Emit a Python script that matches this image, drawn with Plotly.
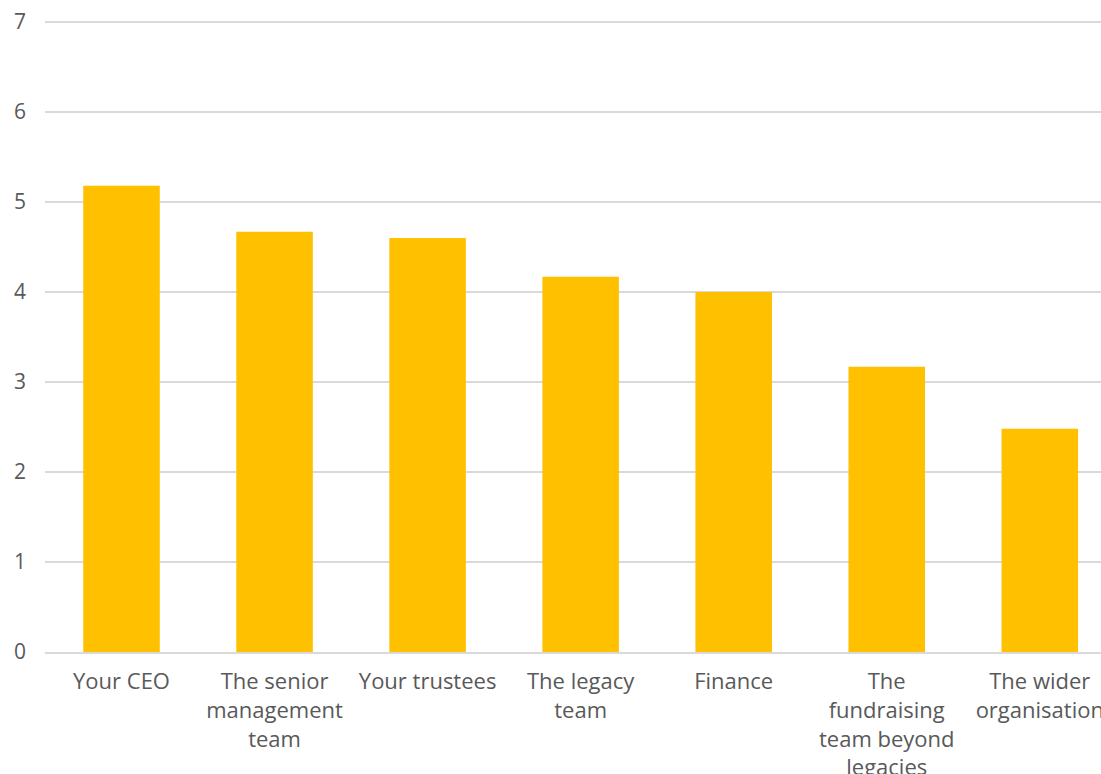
import plotly.graph_objects as go

categories = [
    "Your CEO",
    "The senior<br>management<br>team",
    "Your trustees",
    "The legacy<br>team",
    "Finance",
    "The<br>fundraising<br>team beyond<br>legacies",
    "The wider<br>organisation",
]
scores = [5.18, 4.67, 4.60, 4.17, 4.00, 3.17, 2.48]
y_ticks = [0, 1, 2, 3, 4, 5, 6, 7]

fig = go.Figure(
    go.Bar(
        x=list(range(len(categories))),
        y=scores,
        width=0.5,
        marker=dict(color="#FFC000", line=dict(width=0)),
    )
)

fig.update_layout(
    width=1101,
    height=774,
    margin=dict(l=45, r=0, t=19, b=122),
    paper_bgcolor="white",
    plot_bgcolor="white",
    font=dict(family="Open Sans", size=20, color="#595959"),
    showlegend=False,
    bargap=0.5,
)

fig.update_xaxes(
    tickmode="array",
    tickvals=list(range(len(categories))),
    ticktext=categories,
    range=[-0.5, 6.4],
    showgrid=False,
    showline=True,
    linecolor="#D9D9D9",
    linewidth=2,
    ticks="",
    tickangle=0,
    tickfont=dict(size=22),
    ticklabelstandoff=9,
    ticklabeloverflow="allow",
    automargin=False,
)

fig.update_yaxes(
    range=[0, 7.0333],
    tickvals=y_ticks,
    showgrid=True,
    gridcolor="#D9D9D9",
    gridwidth=2,
    zeroline=False,
    showline=False,
    ticks="",
    tickfont=dict(size=21),
    ticklabelstandoff=18,
    automargin=False,
)

fig.write_html("out.html")
